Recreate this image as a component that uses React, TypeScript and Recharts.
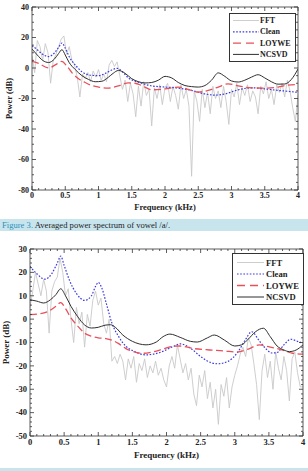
import React from 'react';
import { LineChart, Line, XAxis, YAxis, Label } from 'recharts';

const FONT = '"Liberation Serif", "Times New Roman", serif';

// ---- FFT spectra, one value every FFT_STEP_KHZ from 0 to 4 kHz ----
const FFT_STEP_KHZ = 0.04;

const topFftDb = [
  8, -3, 18, 14, 5, 16, 10, -10, 5, 9,
  14, 19, 21, 9, 14, 5, 2, -6, -19, -4,
  -7, -3, -9, -2, -6, -1, -8, -4, -9, 2,
  5, 1, 4, -5, -14, -8, -22, -10, -17, -32,
  -12, -25, -9, -18, -14, -38, -13, -20, -11, -24,
  -13, -10, -22, -12, -18, -27, -11, -20, -14, -25,
  -71, -15, -22, -35, -14, -26, -16, -30, -12, -20,
  -15, -26, -12, -22, -37, -14, -19, -10, -24, -13,
  -18, -11, -22, -15, -19, -30, -12, -17, -9, -20,
  -14, -24, -11, -16, -10, -19, -8, -15, -26, -35,
  -18,
];

const bottomFftDb = [
  5, 12, 20, 15, 10, 17, 12, -6, 12, 16,
  18, 26, 20, 10, 13, 0, -10, 5, -2, 3,
  -12, 2, -3, 8, 12, 6, 9, -2, -6, 0,
  -18, -16, -19, -15, -18, -26, -17, -21, -16, -27,
  -19, -22, -17, -25, -20, -23, -18, -24, -21, -26,
  -29, -20, -16, -21, -11, -17, -23, -19, -26, -21,
  -32, -37, -24, -29, -22, -34, -27, -38, -30, -45,
  -28, -33, -25, -38, -29, -24, -20, -15, -12, -16,
  -8, -11, -19, -28, -43, -22, -15, -25, -18, -30,
  -14, -21, -26, -16, -22, -35, -17, -14, -23, -29,
  -29,
];

// ---- Smooth model spectra: frequency knots (kHz) and levels (dB) ----
const topCleanKHz = [0, 0.08, 0.16, 0.25, 0.34, 0.4, 0.45, 0.5, 0.56, 0.65, 0.75, 0.9, 1.0, 1.1, 1.2, 1.28, 1.36, 1.45, 1.6, 1.8, 2.0, 2.2, 2.4, 2.6, 2.75, 2.9, 3.1, 3.3, 3.5, 3.7, 3.85, 4.0];
const topCleanDb = [14.6, 12, 9, 7.5, 10, 13.5, 16.4, 13, 7.4, 2, -2.4, -4.8, -5, -3.6, -1.3, -0.2, -2.5, -6.5, -9.3, -11.7, -12.5, -13.2, -14.7, -17, -17.8, -17, -14.3, -13, -13.7, -14.7, -15.3, -16];

const topLoyweKHz = [0, 0.1, 0.25, 0.35, 0.45, 0.52, 0.6, 0.7, 0.8, 0.9, 1.0, 1.15, 1.3, 1.45, 1.55, 1.65, 1.8, 2.0, 2.2, 2.4, 2.5, 2.65, 2.8, 2.95, 3.1, 3.3, 3.5, 3.7, 3.85, 4.0];
const topLoyweDb = [4.3, 3, 0, 2, 4.3, 1.5, -3, -7, -9.5, -11.5, -12.5, -13.2, -11.7, -9.8, -10, -11.5, -14.3, -13.7, -12.5, -14.7, -15.8, -14.7, -12.5, -10.4, -11.7, -13, -13.2, -12.5, -11.2, -10.8];

const topNcsvdKHz = [0, 0.08, 0.16, 0.25, 0.34, 0.4, 0.45, 0.5, 0.56, 0.65, 0.75, 0.85, 0.95, 1.05, 1.15, 1.22, 1.3, 1.4, 1.5, 1.6, 1.7, 1.8, 1.9, 2.0, 2.1, 2.2, 2.3, 2.4, 2.5, 2.6, 2.7, 2.8, 2.9, 3.0, 3.1, 3.2, 3.3, 3.4, 3.5, 3.6, 3.7, 3.8, 3.9, 4.0];
const topNcsvdDb = [12.4, 8.5, 5, 3.6, 6, 9.5, 12, 8.5, 3.5, -1, -5, -7.5, -9, -8.7, -6, -3.5, -1.6, -3.5, -7, -9, -9.8, -9.5, -8, -5.5, -6.5, -9.5, -11.5, -12.2, -12.5, -11.5, -8, -3.2, -5.5, -8.5, -9.2, -8, -6, -4.4, -6.5, -9, -10.6, -10.5, -7.5, -0.7];

const bottomCleanKHz = [0, 0.1, 0.22, 0.32, 0.4, 0.45, 0.5, 0.58, 0.68, 0.8, 0.9, 0.96, 1.0, 1.05, 1.12, 1.2, 1.3, 1.4, 1.5, 1.7, 1.9, 2.1, 2.2, 2.35, 2.5, 2.65, 2.75, 2.9, 3.05, 3.15, 3.25, 3.35, 3.45, 3.55, 3.62, 3.72, 3.82, 3.92, 4.0];
const bottomCleanDb = [22.6, 19.4, 17.1, 19.5, 24, 27, 23, 16.5, 11, 8, 10, 14, 15.7, 13.5, 6.5, -1.7, -7.5, -11.5, -13.4, -15.3, -14.3, -11.7, -10.6, -12.4, -16, -18.6, -19.1, -18.1, -13.9, -9.1, -5.4, -8.9, -12.5, -14.5, -14.3, -11, -8.6, -9.5, -10.3];

const bottomLoyweKHz = [0, 0.15, 0.28, 0.38, 0.45, 0.52, 0.6, 0.7, 0.8, 0.9, 1.0, 1.11, 1.2, 1.3, 1.4, 1.55, 1.65, 1.8, 1.95, 2.1, 2.2, 2.4, 2.63, 2.85, 3.02, 3.2, 3.36, 3.5, 3.65, 3.85, 4.0];
const bottomLoyweDb = [1.9, 2.3, 3.5, 5.5, 7.1, 4.5, 0.5, -3, -6, -7.3, -8, -8.3, -9, -10.5, -12.5, -14.2, -14.6, -14, -12.8, -11.6, -11.5, -12.6, -13.2, -13.6, -14.1, -12.8, -11, -11.8, -12.8, -14.6, -15];

const bottomNcsvdKHz = [0, 0.1, 0.2, 0.3, 0.38, 0.45, 0.52, 0.6, 0.7, 0.8, 0.9, 1.0, 1.1, 1.18, 1.25, 1.36, 1.5, 1.6, 1.7, 1.85, 1.95, 2.05, 2.2, 2.35, 2.45, 2.6, 2.7, 2.85, 3.0, 3.1, 3.2, 3.3, 3.42, 3.52, 3.62, 3.72, 3.8, 3.9, 4.0];
const bottomNcsvdDb = [8.3, 7.7, 6.9, 8.3, 10.5, 13, 10, 5.5, 1, -2.5, -3.8, -3.5, -2.6, -2.4, -3.5, -6.8, -9.5, -10.6, -11, -9.8, -7.5, -6.4, -7.8, -9.5, -9.8, -8, -6.8, -9, -11.5, -11, -8.5, -5.5, -3.9, -7.5, -11.5, -13.2, -13.9, -13.2, -11];

// ---- Axis ticks ----
const xMajorTicks = [0, 0.5, 1, 1.5, 2, 2.5, 3, 3.5, 4];
const topYMajorTicks = [-80, -60, -40, -20, 0, 20, 40];
const bottomYMajorTicks = [-50, -40, -30, -20, -10, 0, 10, 20, 30];

const seriesNames = ['FFT', 'Clean', 'LOYWE', 'NCSVD'];
const captionLabel = 'Figure 3.';
const captionText = ' Averaged power spectrum of vowel /a/.';

const steps = (from: number, to: number, step: number) => {
  const out: number[] = [];
  for (let v = from; v <= to + 1e-9; v += step) out.push(Math.round(v * 1000) / 1000);
  return out;
};
const toPoints = (kHz: number[], db: number[]) => kHz.map((f, i) => ({ f, v: db[i] }));
const fftPoints = (db: number[]) => db.map((v, i) => ({ f: Math.round(i * FFT_STEP_KHZ * 1000) / 1000, v }));

const STYLES: Record<string, { stroke: string; width: number; dash?: string; legendDash?: string }> = {
  FFT: { stroke: '#c8c8c8', width: 0.9 },
  Clean: { stroke: '#3a3ae0', width: 1.2, dash: '1.6 1.6', legendDash: '1.6 1.6' },
  LOYWE: { stroke: '#e8505a', width: 1.3, dash: '7 3.5', legendDash: '8 5' },
  NCSVD: { stroke: '#2e2e2e', width: 1 },
};

type Side = 'bottom' | 'top' | 'left' | 'right';
const AXIS_COLOR = '#333';

const axisTick = (side: Side, majors: number[], fontSize: number, labelGap: number) => (props: any) => {
  const { x, y, payload } = props;
  const v = payload.value as number;
  const major = majors.some((m) => Math.abs(m - v) < 1e-6);
  const len = major ? 4 : 2;
  let line;
  if (side === 'bottom') line = <line x1={x} x2={x} y1={y} y2={y - len} />;
  else if (side === 'top') line = <line x1={x} x2={x} y1={y} y2={y + len} />;
  else if (side === 'left') line = <line x1={x} x2={x + len} y1={y} y2={y} />;
  else line = <line x1={x} x2={x - len} y1={y} y2={y} />;
  let label = null;
  if (major && side === 'bottom') {
    label = (
      <text x={x} y={y + labelGap} textAnchor="middle" fontSize={fontSize} fontFamily={FONT} fontWeight="bold" fill="#222" stroke="none">
        {String(v)}
      </text>
    );
  } else if (major && side === 'left') {
    label = (
      <text x={x - 3} y={y + fontSize * 0.33} textAnchor="end" fontSize={fontSize} fontFamily={FONT} fontWeight="bold" fill="#222" stroke="none">
        {String(v)}
      </text>
    );
  }
  return (
    <g stroke={AXIS_COLOR} strokeWidth={0.8}>
      {line}
      {label}
    </g>
  );
};

type LegendBoxCfg = { left: number; top: number; width: number; height: number; rowH: number; firstRowY: number; lineX: number; lineW: number; textX: number; fontSize: number };

// Boxed legend over the plot's upper-right corner, rows in series order
function LegendBox({ cfg }: { cfg: LegendBoxCfg }) {
  return (
    <div
      style={{
        position: 'absolute',
        left: cfg.left,
        top: cfg.top,
        width: cfg.width,
        height: cfg.height,
        boxSizing: 'border-box',
        border: '1px solid #333',
        background: '#fff',
        zIndex: 2,
      }}
    >
      <svg width={cfg.width - 2} height={cfg.height - 2} style={{ display: 'block' }}>
        {seriesNames.map((name, i) => {
          const st = STYLES[name];
          const cy = cfg.firstRowY + i * cfg.rowH;
          return (
            <g key={name}>
              <line
                x1={cfg.lineX}
                x2={cfg.lineX + cfg.lineW}
                y1={cy}
                y2={cy}
                stroke={st.stroke}
                strokeWidth={st.width}
                strokeDasharray={st.legendDash}
              />
              <text x={cfg.textX} y={cy} dominantBaseline="central" fontFamily={FONT} fontSize={cfg.fontSize} fontWeight="bold" fill="#222">
                {name}
              </text>
            </g>
          );
        })}
      </svg>
    </div>
  );
}

type PanelProps = {
  top: number;
  width: number;
  height: number;
  margin: { top: number; right: number; bottom: number; left: number };
  yAxisWidth: number;
  yDomain: [number, number];
  yTicks: number[];
  yMajors: number[];
  fft: number[];
  cleanKHz: number[];
  cleanDb: number[];
  loyweKHz: number[];
  loyweDb: number[];
  ncsvdKHz: number[];
  ncsvdDb: number[];
  tickFont: number;
  xLabelGap: number;
  xTitleGap: number;
  yTitleX: number;
  titleFont: number;
  legend: LegendBoxCfg;
};

function SpectrumPanel(p: PanelProps) {
  const xTicks = steps(0, 4, 0.1);
  const lines = [
    { name: seriesNames[0], data: fftPoints(p.fft) },
    { name: seriesNames[1], data: toPoints(p.cleanKHz, p.cleanDb) },
    { name: seriesNames[2], data: toPoints(p.loyweKHz, p.loyweDb) },
    { name: seriesNames[3], data: toPoints(p.ncsvdKHz, p.ncsvdDb) },
  ];
  const yTitle = (lp: any) => {
    const vb = lp.viewBox || {};
    const cy = (vb.y || 0) + (vb.height || 0) / 2;
    return (
      <text
        x={p.yTitleX}
        y={cy}
        transform={`rotate(-90 ${p.yTitleX} ${cy})`}
        textAnchor="middle"
        dominantBaseline="central"
        fontFamily={FONT}
        fontWeight="bold"
        fontSize={p.titleFont}
        fill="#222"
      >
        Power (dB)
      </text>
    );
  };
  const xTitle = (lp: any) => {
    const vb = lp.viewBox || {};
    const cx = (vb.x || 0) + (vb.width || 0) / 2;
    return (
      <text x={cx} y={(vb.y || 0) + p.xTitleGap} textAnchor="middle" fontFamily={FONT} fontWeight="bold" fontSize={p.titleFont} fill="#222">
        Frequency (kHz)
      </text>
    );
  };
  const axisLine = { stroke: AXIS_COLOR, strokeWidth: 0.8 };
  return (
    <div style={{ position: 'absolute', left: 0, top: p.top, width: p.width, height: p.height }}>
      <LineChart width={p.width} height={p.height} margin={p.margin}>
        <XAxis
          xAxisId="b"
          type="number"
          dataKey="f"
          domain={[0, 4]}
          ticks={xTicks}
          interval={0}
          tickSize={0}
          tickMargin={0}
          height={25}
          axisLine={axisLine}
          tick={axisTick('bottom', xMajorTicks, p.tickFont, p.xLabelGap)}
          allowDataOverflow
        >
          <Label content={xTitle} />
        </XAxis>
        <XAxis
          xAxisId="t"
          orientation="top"
          type="number"
          dataKey="f"
          domain={[0, 4]}
          ticks={xTicks}
          interval={0}
          tickSize={0}
          tickMargin={0}
          height={1}
          axisLine={axisLine}
          tick={axisTick('top', xMajorTicks, p.tickFont, 0)}
          allowDataOverflow
        />
        <YAxis
          yAxisId="l"
          type="number"
          domain={p.yDomain}
          ticks={p.yTicks}
          interval={0}
          tickSize={0}
          tickMargin={0}
          width={p.yAxisWidth}
          axisLine={axisLine}
          tick={axisTick('left', p.yMajors, p.tickFont, 0)}
          allowDataOverflow
        >
          <Label content={yTitle} />
        </YAxis>
        <YAxis
          yAxisId="r"
          orientation="right"
          type="number"
          domain={p.yDomain}
          ticks={p.yTicks}
          interval={0}
          tickSize={0}
          tickMargin={0}
          width={1}
          axisLine={axisLine}
          tick={axisTick('right', p.yMajors, p.tickFont, 0)}
          allowDataOverflow
        />
        {lines.map((l) => {
          const st = STYLES[l.name];
          return (
            <Line
              key={l.name}
              xAxisId="b"
              yAxisId="l"
              data={l.data}
              dataKey="v"
              name={l.name}
              type={l.name === 'FFT' ? 'linear' : 'monotone'}
              stroke={st.stroke}
              strokeWidth={st.width}
              strokeDasharray={st.dash}
              dot={false}
              activeDot={false}
              isAnimationActive={false}
            />
          );
        })}
      </LineChart>
      <LegendBox cfg={p.legend} />
    </div>
  );
}

export default function App() {
  return (
    <div style={{ position: 'absolute', left: 0, top: 0, width: 308, height: 471, background: '#fff', overflow: 'hidden' }}>
      <SpectrumPanel
        top={0}
        width={308}
        height={215}
        margin={{ top: 6, right: 9, bottom: 0, left: 0 }}
        yAxisWidth={32}
        yDomain={[-80, 40]}
        yTicks={steps(-80, 40, 5)}
        yMajors={topYMajorTicks}
        fft={topFftDb}
        cleanKHz={topCleanKHz}
        cleanDb={topCleanDb}
        loyweKHz={topLoyweKHz}
        loyweDb={topLoyweDb}
        ncsvdKHz={topNcsvdKHz}
        ncsvdDb={topNcsvdDb}
        tickFont={8}
        xLabelGap={7.5}
        xTitleGap={20}
        yTitleX={9}
        titleFont={8.5}
        legend={{ left: 229, top: 13, width: 67, height: 49, rowH: 11.3, firstRowY: 6.5, lineX: 3, lineW: 26, textX: 30, fontSize: 8 }}
      />
      <div
        style={{
          position: 'absolute',
          left: 0,
          top: 219,
          width: 308,
          height: 12,
          background: '#c8e5ee',
          fontFamily: FONT,
          fontSize: 8.6,
          lineHeight: '12px',
          color: '#222',
          paddingLeft: 2,
          boxSizing: 'border-box',
          whiteSpace: 'nowrap',
        }}
      >
        <span style={{ color: '#2f8fb8' }}>{captionLabel}</span>
        {captionText}
      </div>
      <SpectrumPanel
        top={231}
        width={308}
        height={237}
        margin={{ top: 17, right: 4, bottom: 7, left: 0 }}
        yAxisWidth={30}
        yDomain={[-50, 30]}
        yTicks={steps(-50, 30, 2)}
        yMajors={bottomYMajorTicks}
        fft={bottomFftDb}
        cleanKHz={bottomCleanKHz}
        cleanDb={bottomCleanDb}
        loyweKHz={bottomLoyweKHz}
        loyweDb={bottomLoyweDb}
        ncsvdKHz={bottomNcsvdKHz}
        ncsvdDb={bottomNcsvdDb}
        tickFont={8.5}
        xLabelGap={9}
        xTitleGap={22}
        yTitleX={5.5}
        titleFont={9}
        legend={{ left: 232, top: 22, width: 72, height: 52, rowH: 11.5, firstRowY: 8.5, lineX: 4, lineW: 27, textX: 33, fontSize: 8.6 }}
      />
      <div style={{ position: 'absolute', left: 0, top: 468, width: 308, height: 3, background: '#c8e5ee' }} />
    </div>
  );
}
